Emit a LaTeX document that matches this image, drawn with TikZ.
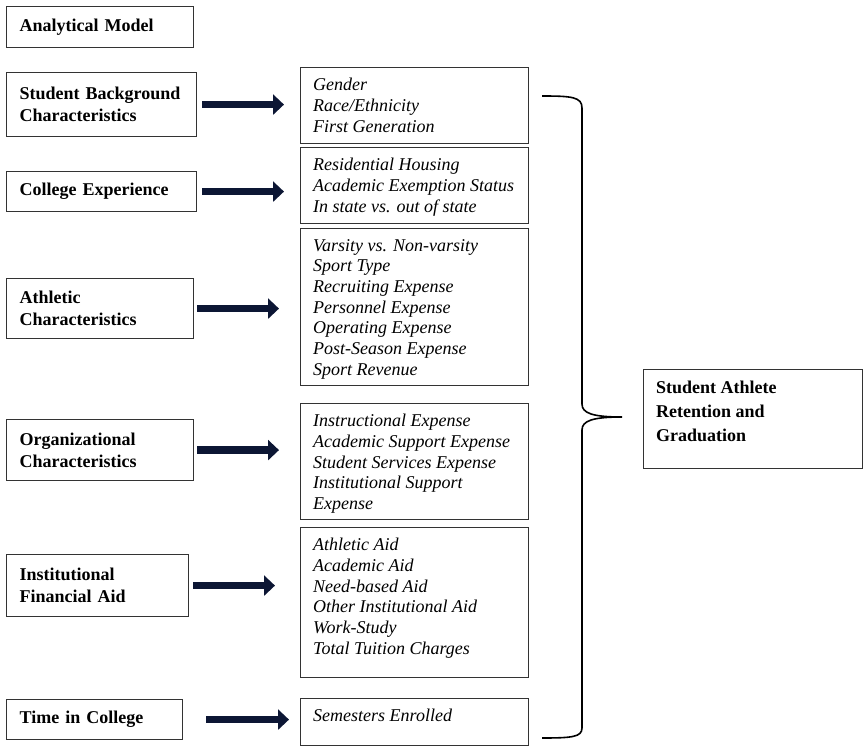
\documentclass[tikz,border=0pt]{standalone}
\usepackage{fontspec}
\setmainfont{Liberation Serif}
\usetikzlibrary{arrows.meta}
\definecolor{arrownavy}{RGB}{12,22,52}

\begin{document}
\begin{tikzpicture}[x=1pt,y=-1pt,
  catbox/.style={draw=black!80,line width=1.2pt,anchor=north west,align=left,inner xsep=13pt,inner ysep=0pt,font=\fontsize{18}{22}\selectfont\bfseries},
  varbox/.style={draw=black!80,line width=1.2pt,anchor=north west,minimum width=228pt,inner sep=0pt},
  vartext/.style={anchor=north west,align=left,inner xsep=13pt,inner ysep=11pt,font=\fontsize{18}{20.7}\selectfont\itshape},
  bigarrow/.style={-{Triangle[length=11pt,width=20pt]},line width=7.5pt,draw=arrownavy}]
\useasboundingbox (0,0) rectangle (863,746);

% left column
\node[catbox,text width=161pt,minimum height=41pt] (title) at (6,6) {Analytical Model};
\node[catbox,text width=164pt,minimum height=64pt] (b1) at (6,72) {Student Background\\ Characteristics};
\node[catbox,text width=164pt,minimum height=40pt] (b2) at (6,171) {College Experience};
\node[catbox,text width=161pt,minimum height=60pt] (b3) at (6,278) {Athletic\\ Characteristics};
\node[catbox,text width=161pt,minimum height=61pt] (b4) at (6,419) {Organizational\\ Characteristics};
\node[catbox,text width=156pt,minimum height=62pt] (b5) at (6,554) {Institutional\\ Financial Aid};
\node[catbox,text width=150pt,minimum height=40pt] (b6) at (6,699) {Time in College};

% middle column
\node[varbox,minimum height=76pt] (m1) at (300,67) {};
\node[vartext] (t1) at (m1.north west) {Gender\\ Race/Ethnicity\\ First Generation};
\node[varbox,minimum height=76pt] (m2) at (300,147) {};
\node[vartext] (t2) at (m2.north west) {Residential Housing\\ Academic Exemption Status\\ In state vs. out of state};
\node[varbox,minimum height=157pt] (m3) at (300,228) {};
\node[vartext] (t3) at (m3.north west) {Varsity vs. Non-varsity\\ Sport Type\\ Recruiting Expense\\ Personnel Expense\\ Operating Expense\\ Post-Season Expense\\ Sport Revenue};
\node[varbox,minimum height=116pt] (m4) at (300,403) {};
\node[vartext] (t4) at (m4.north west) {Instructional Expense\\ Academic Support Expense\\ Student Services Expense\\ Institutional Support\\ Expense};
\node[varbox,minimum height=150pt] (m5) at (300,527) {};
\node[vartext] (t5) at (m5.north west) {Athletic Aid\\ Academic Aid\\ Need-based Aid\\ Other Institutional Aid\\ Work-Study\\ Total Tuition Charges};
\node[varbox,minimum height=47pt] (m6) at (300,698) {};
\node[vartext] (t6) at (m6.north west) {Semesters Enrolled};

% outcome
\node[varbox,minimum width=219pt,minimum height=99pt] (res) at (643,369) {};
\node[vartext,inner ysep=12pt,font=\fontsize{18}{24}\selectfont\bfseries] (tres) at (res.north west) {Student Athlete\\ Retention and\\ Graduation};

% arrows
\draw[bigarrow,shorten <=5pt,shorten >=16pt] (b1.east) -- (b1.east -| m1.west);
\draw[bigarrow,shorten <=5pt,shorten >=16pt] (b2.east) -- (b2.east -| m2.west);
\draw[bigarrow,shorten <=3pt,shorten >=21pt] (b3.east) -- (b3.east -| m3.west);
\draw[bigarrow,shorten <=3pt,shorten >=21pt] (b4.east) -- (b4.east -| m4.west);
\draw[bigarrow,shorten <=4pt,shorten >=25pt] (b5.east) -- (b5.east -| m5.west);
\draw[bigarrow,shorten <=23pt,shorten >=11pt] (b6.east) -- (b6.east -| m6.west);

% brace
\coordinate (tip) at (622,417);
\draw[line width=1.6pt] (542,96) .. controls (572,96) and (582,97) .. (582,108) -- (582,404)
  .. controls (582,413) and (592,417) .. (tip) .. controls (592,417) and (582,421) .. (582,430)
  -- (582,728) .. controls (582,737) and (572,738) .. (542,738);
\end{tikzpicture}
\end{document}
